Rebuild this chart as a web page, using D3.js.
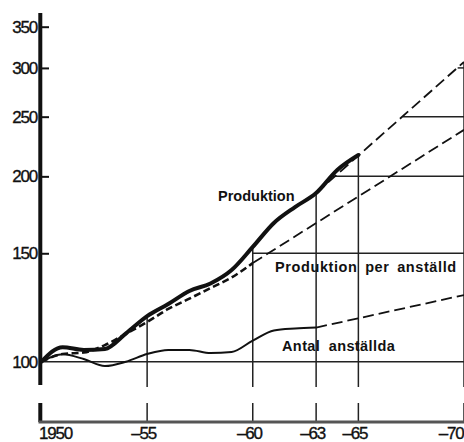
<!DOCTYPE html>
<html>
<head>
<meta charset="utf-8">
<script src="https://cdn.jsdelivr.net/npm/d3@7"></script>
<style>
  body { margin: 0; background: #fff; }
  svg { display: block; }
  .tick-lbl { font-family: "Liberation Sans", Arial, sans-serif; font-size: 17px; letter-spacing: -1.2px; fill: #111; stroke: #111; stroke-width: 0.35px; }
  .lbl { font-family: "Liberation Sans", Arial, sans-serif; font-weight: bold; fill: #111; }
</style>
</head>
<body>
<div id="chart"></div>
<script>
// index numbers, 1950 = 100 (log scale)
var years = [1950, 1951, 1952, 1953, 1954, 1955, 1956, 1957, 1958, 1959, 1960, 1961, 1962, 1963, 1964, 1965];
var produktion = [100, 105.6, 104.5, 104.9, 111.2, 118.6, 124.1, 130.3, 134.0, 140.9, 153.6, 168.0, 178.3, 187.9, 204.8, 216.6];

var perYears = [1950, 1951, 1952, 1953, 1954, 1955, 1956, 1957, 1958, 1959, 1960];
var perAnstalld = [100, 102.9, 103.5, 106.4, 111.0, 116.0, 121.8, 126.6, 131.7, 137.0, 144.6];

var antalYears = [1950, 1951, 1952, 1953, 1954, 1955, 1956, 1957, 1958, 1959, 1960, 1961, 1962, 1963];
var antal = [100, 102.8, 101.0, 98.4, 100, 102.9, 104.5, 104.5, 103.3, 103.7, 108.2, 112.4, 113.2, 113.6];

// projections to 1970 (dashed)
var prodProjYears = [1963, 1970];
var prodProj = [187.9, 306.8];
var perProjYears = [1960, 1970];
var perProj = [144.6, 238];
var antalProjYears = [1963, 1970];
var antalProj = [113.6, 128.3];

// guide lines
var vGuideYears = [1955, 1960, 1963, 1965, 1970];
var hGuideVals = [150, 200, 250, 300];
var hGuideFrom = [1960, 1963.7, 1967.1, 1969.7];

var xTickYears = [1950, 1955, 1960, 1963, 1965, 1970];
var xTickLabels = ["1950", "\u201355", "\u201360", "\u201363", "\u201365", "\u201370"];
var yTickVals = [100, 150, 200, 250, 300, 350];

var width = 464, height = 442;
var breakTop = 387, breakBottom = 403, axisY = 422;

var svg = d3.select("#chart").append("svg").attr("width", width).attr("height", height);

var x = d3.scaleLinear().domain([1950, 1970]).range([41.5, 464]);
var y = d3.scaleLog().domain([100, 350]).range([361.7, 26.7]);

function zip(xs, vs) { return xs.map(function (d, i) { return { year: d, v: vs[i] }; }); }

var smooth = d3.line().x(function (d) { return x(d.year); }).y(function (d) { return y(d.v); }).curve(d3.curveMonotoneX);
var straight = d3.line().x(function (d) { return x(d.year); }).y(function (d) { return y(d.v); });

function topValue(yr) {
  var i = years.indexOf(yr);
  if (i >= 0) return produktion[i];
  return prodProj[prodProjYears.indexOf(yr)];
}

// vertical guides (with axis break)
vGuideYears.forEach(function (yr) {
  svg.append("line").attr("x1", x(yr)).attr("x2", x(yr))
    .attr("y1", y(topValue(yr))).attr("y2", breakTop)
    .attr("stroke", "#222").attr("stroke-width", 1.5);
  svg.append("line").attr("x1", x(yr)).attr("x2", x(yr))
    .attr("y1", breakBottom).attr("y2", axisY)
    .attr("stroke", "#222").attr("stroke-width", 1.5);
});

// horizontal guides
hGuideVals.forEach(function (v, i) {
  svg.append("line").attr("x1", x(hGuideFrom[i])).attr("x2", width)
    .attr("y1", y(v)).attr("y2", y(v))
    .attr("stroke", "#222").attr("stroke-width", 1.5);
});

// base line at 100
svg.append("line").attr("x1", x(1950)).attr("x2", width)
  .attr("y1", y(100)).attr("y2", y(100))
  .attr("stroke", "#222").attr("stroke-width", 1.5);

// y axis line with break
svg.append("line").attr("x1", 40.3).attr("x2", 40.3).attr("y1", 13).attr("y2", breakTop - 2)
  .attr("stroke", "#111").attr("stroke-width", 4);
svg.append("line").attr("x1", 40.3).attr("x2", 40.3).attr("y1", breakBottom).attr("y2", axisY)
  .attr("stroke", "#111").attr("stroke-width", 4);

// y tick marks
var yTicks = svg.append("g").attr("transform", "translate(42,0)")
  .call(d3.axisRight(y).tickValues(yTickVals.slice(1)).tickSize(7).tickFormat(""));
yTicks.select(".domain").remove();
yTicks.selectAll("line").attr("stroke", "#111").attr("stroke-width", 2);

// y labels
var yLabels = svg.append("g").attr("transform", "translate(37,0)")
  .call(d3.axisLeft(y).tickValues(yTickVals).tickSize(0).tickPadding(0).tickFormat(d3.format("d")));
yLabels.select(".domain").remove();
yLabels.selectAll("text").attr("class", "tick-lbl").attr("font-size", null).attr("font-family", null);

// x axis
svg.append("line").attr("x1", 38.5).attr("x2", width).attr("y1", axisY).attr("y2", axisY)
  .attr("stroke", "#555").attr("stroke-width", 3);
var xAxis = svg.append("g").attr("transform", "translate(0," + axisY + ")")
  .call(d3.axisBottom(x).tickValues(xTickYears).tickSize(0).tickPadding(5)
    .tickFormat(function (d, i) { return xTickLabels[i]; }));
xAxis.select(".domain").remove();
xAxis.selectAll("text").attr("class", "tick-lbl").attr("font-size", null).attr("font-family", null)
  .attr("text-anchor", function (d) { return d === 1950 ? "start" : d === 1970 ? "end" : "middle"; })
  .attr("dx", function (d) { return d === 1950 ? -3 : d === 1970 ? -1 : -4; });

// Antal anställda
svg.append("path").attr("d", smooth(zip(antalYears, antal)))
  .attr("fill", "none").attr("stroke", "#111").attr("stroke-width", 2).attr("stroke-linejoin", "round");
svg.append("path").attr("d", straight(zip(antalProjYears, antalProj)))
  .attr("fill", "none").attr("stroke", "#111").attr("stroke-width", 1.8).attr("stroke-dasharray", "11,5");

// Produktion per anställd
svg.append("path").attr("d", smooth(zip(perYears, perAnstalld)))
  .attr("fill", "none").attr("stroke", "#111").attr("stroke-width", 2.6).attr("stroke-dasharray", "7,3.5");
svg.append("path").attr("d", straight(zip(perProjYears, perProj)))
  .attr("fill", "none").attr("stroke", "#111").attr("stroke-width", 1.8).attr("stroke-dasharray", "11,5");

// Produktion
svg.append("path").attr("d", straight(zip(prodProjYears, prodProj)))
  .attr("fill", "none").attr("stroke", "#111").attr("stroke-width", 1.8).attr("stroke-dasharray", "11,5");
svg.append("path").attr("d", smooth(zip(years, produktion)))
  .attr("fill", "none").attr("stroke", "#111").attr("stroke-width", 4).attr("stroke-linejoin", "round").attr("stroke-linecap", "round");

// series labels
svg.append("text").attr("class", "lbl").attr("x", 218).attr("y", 201).attr("font-size", 14.5).text("Produktion");
svg.append("text").attr("class", "lbl").attr("x", 275).attr("y", 272).attr("font-size", 14.5)
  .attr("word-spacing", 3).attr("letter-spacing", 0.6).text("Produktion per anställd");
svg.append("text").attr("class", "lbl").attr("x", 282).attr("y", 351).attr("font-size", 14.5)
  .attr("word-spacing", 4).attr("letter-spacing", 0.4).text("Antal anställda");
</script>
</body>
</html>
